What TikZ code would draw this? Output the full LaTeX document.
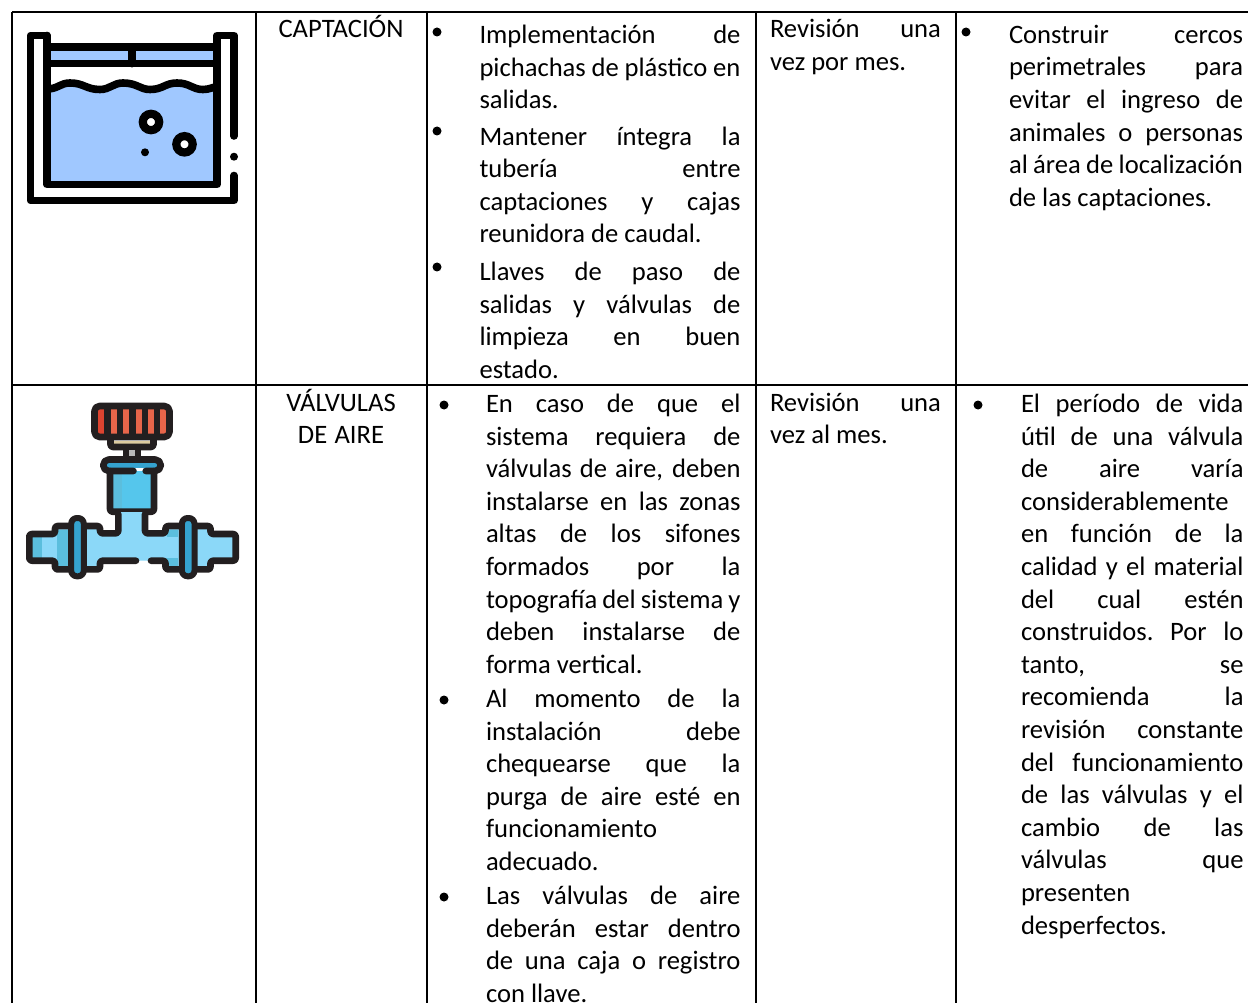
\documentclass[tikz,border=0pt]{standalone}
\usepackage{fontspec}
\setmainfont{Carlito}
\definecolor{ink}{HTML}{000000}
\definecolor{poolblue}{HTML}{A0C8FF}
\definecolor{dark}{HTML}{231F20}
\definecolor{pipe}{HTML}{8BD8F8}
\definecolor{pipemid}{HTML}{55C6EC}
\definecolor{pipeshade}{HTML}{5BBEDD}
\definecolor{pipedk}{HTML}{35A3CF}
\definecolor{knob}{HTML}{E8654A}
\definecolor{knobdk}{HTML}{DD4430}
\definecolor{tan}{HTML}{DCCBA0}
\newcommand{\jl}[1]{\makebox[\linewidth][s]{\spaceskip=.15em plus 1fil\relax #1}\par}
\newcommand{\fl}[1]{\mbox{\spaceskip=0pt\relax #1}\par}
\tikzset{
  x=1pt,y=-1pt,
  rule/.style={line width=1.7pt,ink},
  celltext/.style={anchor=north west,inner sep=0pt,outer sep=0pt,font=\fontsize{26.6pt}{32.6pt}\selectfont,align=left},
  centertext/.style={anchor=north,inner sep=0pt,outer sep=0pt,font=\fontsize{26.6pt}{32.6pt}\selectfont,align=center},
  bul/.style={circle,fill=black,inner sep=0pt,minimum size=9pt},
  pool/.style={line width=7.6pt,black,line cap=round,line join=round},
  val/.style={line width=6.6pt,dark,line cap=round,line join=round,rounded corners=2.5pt},
}
\begin{document}
\begin{tikzpicture}
\useasboundingbox (0,0) rectangle (1248,1003);
\fill[white] (0,0) rectangle (1248,1003);
% grid
\coordinate (tl) at (12.2,12.2); \coordinate (tr) at (1248,12.2);
\coordinate (ml) at (12.2,385); \coordinate (mr) at (1248,385);
\coordinate (bl) at (12.2,1003);
\coordinate (c1t) at (256,12.2); \coordinate (c1b) at (256,1003);
\coordinate (c2t) at (427,12.2); \coordinate (c2b) at (427,1003);
\coordinate (c3t) at (756,12.2); \coordinate (c3b) at (756,1003);
\coordinate (c4t) at (956,12.2); \coordinate (c4b) at (956,1003);
\draw[rule] (tl)--(tr);
\draw[rule] (ml)--(mr);
\draw[rule] (tl)--(bl);
\draw[rule] (c1t)--(c1b);
\draw[rule] (c2t)--(c2b);
\draw[rule] (c3t)--(c3b);
\draw[rule] (c4t)--(c4b);

% pool icon
\fill[poolblue] (47,47) rectangle (217,63);
\fill[poolblue] (47,89) .. controls (58,89) and (60,83) .. (70,83) .. controls (84,83) and (86,89.5) .. (100,89.5) .. controls (110,89.5) and (113,83) .. (123,83) .. controls (137,83) and (140,89.5) .. (150,89.5) .. controls (163,89.5) and (165,83) .. (177,83) .. controls (190,83) and (192,89.5) .. (203,89.5) .. controls (210,89.5) and (212,87) .. (217,87) -- (217,184.5) -- (47,184.5) -- cycle;
\draw[pool] (47,35.5) -- (30.5,35.5) -- (30.5,200.5) -- (234,200.5) -- (234,175.5);
\draw[pool] (47,35.5) -- (47,184.5) -- (217,184.5) -- (217,35.5) -- (234,35.5) -- (234,136);
\fill (234,156.7) circle (4);
\draw[pool] (47,47) -- (217,47);
\draw[pool] (47,63.7) -- (217,63.7);
\draw[pool] (132,47) -- (132,63.7);
\draw[pool] (47,89) .. controls (58,89) and (60,83) .. (70,83) .. controls (84,83) and (86,89.5) .. (100,89.5) .. controls (110,89.5) and (113,83) .. (123,83) .. controls (137,83) and (140,89.5) .. (150,89.5) .. controls (163,89.5) and (165,83) .. (177,83) .. controls (190,83) and (192,89.5) .. (203,89.5) .. controls (210,89.5) and (212,87) .. (217,87);
\draw[line width=8.2pt,fill=white] (151,122) circle (8.2);
\draw[line width=8.2pt,fill=white] (184.5,144.3) circle (8.2);
\fill (145,152.3) circle (4);

% valve icon: knob
\fill[dark] (96,407) rectangle (168,436);
\foreach \xx in {110.7,123.3,135.7,148,160.3}{\fill[knob] (\xx,409.3) rectangle (\xx+6,434);}
\fill[knobdk] (98.3,409.3) rectangle (104.3,434);
\draw[val,rounded corners=5pt] (94.5,406) rectangle (169.5,437);
% collar and stem
\fill[tan] (114,440.7) rectangle (150,444);
\draw[val] (110.5,438) -- (110.5,447) -- (153.5,447) -- (153.5,438);
\fill[gray!55] (129,450) rectangle (135,456);
\draw[val,line cap=butt] (126,448) -- (126,458);
\draw[val,line cap=butt] (138,448) -- (138,458);
% cup
\fill[pipemid] (113,471) rectangle (150.7,512);
\fill[pipeshade] (113,471) rectangle (121.7,512);
\fill[pipedk] (106.7,462.7) rectangle (157.3,468.3);
\draw[val,rounded corners=5.5pt] (133.5,471) -- (103.3,471) -- (103.3,459.5) -- (160.7,459.5) -- (160.7,471) -- (145.7,471);
\draw[val] (110,471) -- (110,511.7) -- (154,511.7) -- (154,471);
% pipe
\fill[pipe] (118.3,512) -- (118.3,533.3) -- (100,533.3) -- (100,526) -- (55,526) -- (55,534) -- (29.3,534) -- (29.3,560.7) -- (55,560.7) -- (55,569.4) -- (100,569.4) -- (100,560.7) -- (165.5,560.7) -- (165.5,569.4) -- (210.5,569.4) -- (210.5,560.7) -- (235.7,560.7) -- (235.7,534) -- (210.5,534) -- (210.5,526) -- (165.5,526) -- (165.5,533.3) -- (145,533.3) -- (145,512) -- cycle;
\fill[pipeshade] (29.3,534) rectangle (41.7,560.7);
\fill[pipeshade] (57,530) rectangle (68,566);
\fill[pipeshade] (167,530) rectangle (178,537);
\fill[pipeshade] (163,558) rectangle (178,569);
\draw[val] (118.3,514) -- (118.3,533.3) -- (100,533.3) -- (100,526) -- (85,526);
\draw[val] (145,514) -- (145,533.3) -- (165.5,533.3) -- (165.5,526) -- (180,526);
\draw[val] (70,526) -- (55,526) -- (55,534) -- (29.3,534) -- (29.3,560.7) -- (55,560.7) -- (55,569.4) -- (70,569.4);
\draw[val] (195,526) -- (210.5,526) -- (210.5,534) -- (235.7,534) -- (235.7,560.7) -- (210.5,560.7) -- (210.5,569.4) -- (195,569.4);
\draw[val] (136,560.7) -- (100,560.7) -- (100,569.4) -- (85,569.4);
\draw[val] (151,560.7) -- (165.5,560.7) -- (165.5,569.4) -- (180,569.4);
\draw[val,line width=6pt,fill=pipedk,rounded corners=5.7pt] (71.2,518) rectangle (83.8,576.3);
\draw[val,line width=6pt,fill=pipedk,rounded corners=5.7pt] (181.9,518) rectangle (194.5,576.3);

% column 2
\node[centertext,text width=132pt] (capt) at (341,15) {CAPTACIÓN};
\node[centertext,text width=132pt] (valv) at (341,389) {\spaceskip=0pt\relax VÁLVULAS\\DE AIRE};

% row 1 column 3
\node[bul] (b11) at (437,32) {};
\node[bul] (b12) at (437,131) {};
\node[bul] (b13) at (437,267) {};
\node[celltext,text width=261pt] (t11) at (479.5,25) {\jl{Implementación\hfill de}\jl{pichachas de plástico en}\fl{salidas.}};
\node[celltext,text width=261pt] (t12) at (479.5,126.7) {\jl{Mantener\hfill íntegra\hfill la}\jl{tubería\hfill entre}\jl{captaciones\hfill y\hfill cajas}\fl{reunidora de caudal.}};
\node[celltext,text width=261pt] (t13) at (479.5,262) {\jl{Llaves\hfill de\hfill paso\hfill de}\jl{salidas\hfill y\hfill válvulas\hfill de}\jl{limpieza\hfill en\hfill buen}\fl{estado.}};
% row 1 column 4
\node[celltext,text width=171pt] (r1f) at (770,19.5) {\jl{Revisión\hfill una}\fl{vez por mes.}};
% row 1 column 5
\node[bul] (b14) at (966,32) {};
\node[celltext,text width=234pt] (t14) at (1009,25) {\jl{Construir\hfill cercos}\jl{perimetrales\hfill para}\jl{evitar el ingreso de}\jl{animales o personas}\jl{al área de localización}\fl{de las captaciones.}};

% row 2 column 3
\node[bul] (b21) at (444,405) {};
\node[bul] (b22) at (444,700) {};
\node[bul] (b23) at (444,897) {};
\node[celltext,text width=254.5pt] (t21) at (486,394) {\jl{En\hfill caso\hfill de\hfill que\hfill el}\jl{sistema\hfill requiera\hfill de}\jl{válvulas de aire, deben}\jl{instalarse en las zonas}\jl{altas\hfill de\hfill los\hfill sifones}\jl{formados\hfill por\hfill la}\jl{topografía del sistema y}\jl{deben\hfill instalarse\hfill de}\fl{forma vertical.}};
\node[celltext,text width=254.5pt] (t22) at (486,689) {\jl{Al\hfill momento\hfill de\hfill la}\jl{instalación\hfill debe}\jl{chequearse\hfill que\hfill la}\jl{purga\hfill de\hfill aire\hfill esté\hfill en}\fl{funcionamiento}\fl{adecuado.}};
\node[celltext,text width=254.5pt] (t23) at (486,886) {\jl{Las\hfill válvulas\hfill de\hfill aire}\jl{deberán\hfill estar\hfill dentro}\jl{de\hfill una\hfill caja\hfill o\hfill registro}\fl{con llave.}};
% row 2 column 4
\node[celltext,text width=171pt] (r2f) at (770,393) {\jl{Revisión\hfill una}\fl{vez al mes.}};
% row 2 column 5
\node[bul] (b24) at (978,405) {};
\node[celltext,text width=222.5pt] (t24) at (1021,394) {\jl{El\hfill período\hfill de\hfill vida}\jl{útil\hfill de\hfill una\hfill válvula}\jl{de\hfill aire\hfill varía}\fl{considerablemente}\jl{en\hfill función\hfill de\hfill la}\jl{calidad y el material}\jl{del\hfill cual\hfill estén}\jl{construidos.\hfill Por\hfill lo}\jl{tanto,\hfill se}\jl{recomienda\hfill la}\jl{revisión\hfill constante}\jl{del\hfill funcionamiento}\jl{de las válvulas y el}\jl{cambio\hfill de\hfill las}\jl{válvulas\hfill que}\fl{presenten}\fl{desperfectos.}};
\end{tikzpicture}
\end{document}
